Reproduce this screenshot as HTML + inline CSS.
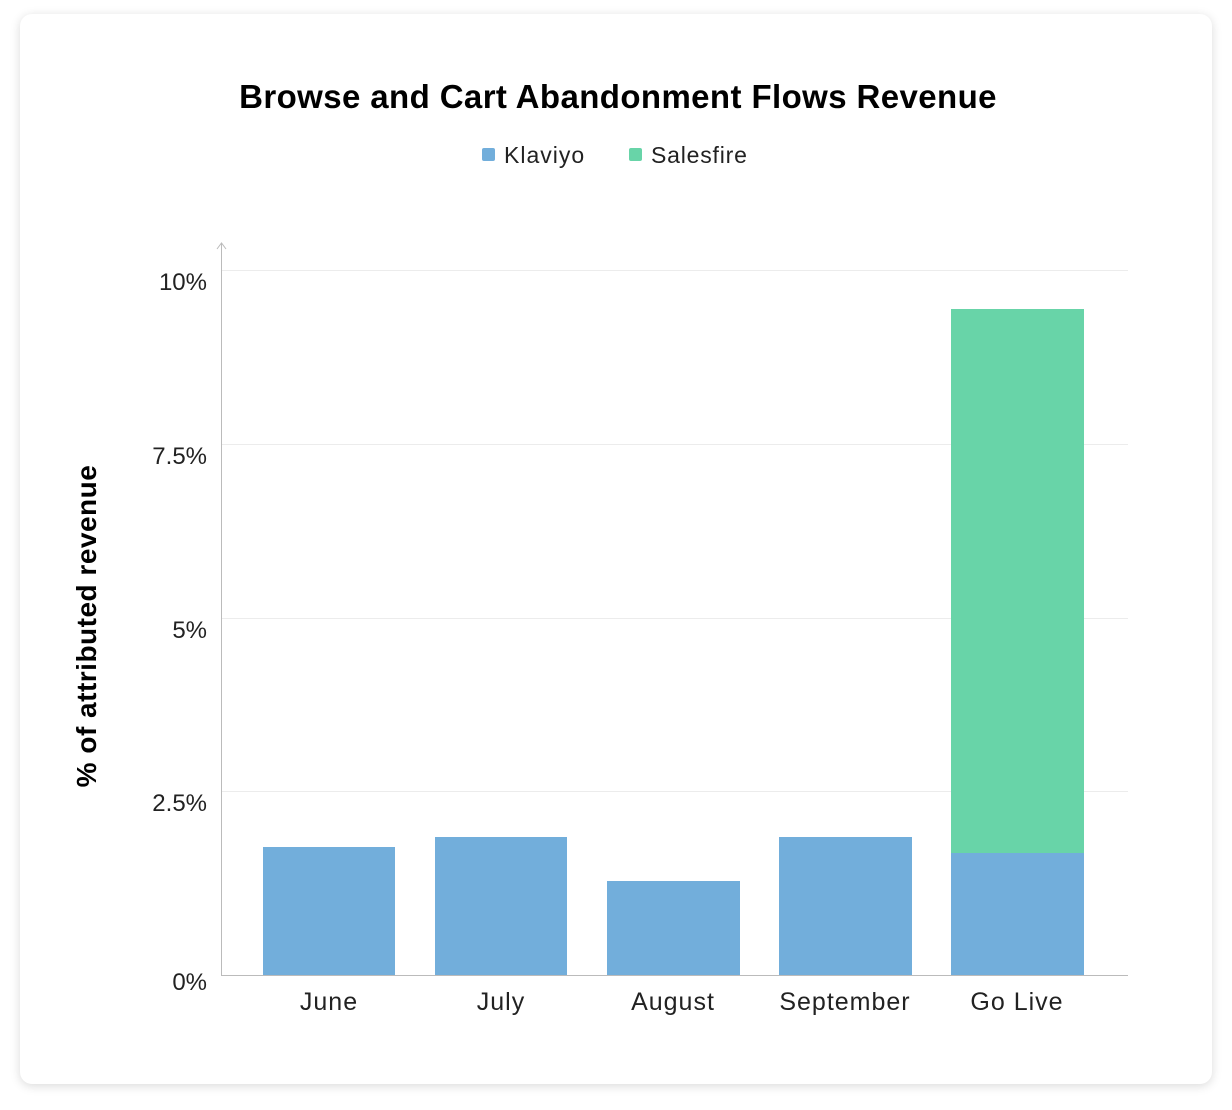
<!DOCTYPE html>
<html><head><meta charset="utf-8"><style>
html,body{margin:0;padding:0;background:#fff;}
body{width:1232px;height:1110px;position:relative;overflow:hidden;font-family:"Liberation Sans",sans-serif;}
.card{position:absolute;left:20px;top:14px;width:1192px;height:1070px;background:#fff;border-radius:12px;box-shadow:0 2px 10px rgba(0,0,0,0.15);}
</style></head><body>
<div class="card"></div>
<svg width="1232" height="1110" style="position:absolute;left:0;top:0" font-family="Liberation Sans, sans-serif">
<text x="618" y="108" text-anchor="middle" font-size="33" font-weight="bold" fill="#000" letter-spacing="0.4">Browse and Cart Abandonment Flows Revenue</text>
<rect x="482" y="148" width="13" height="13" rx="2" fill="#72aedb"/>
<text x="504" y="163" font-size="23" fill="#222" letter-spacing="1">Klaviyo</text>
<rect x="629" y="148" width="13" height="13" rx="2" fill="#68d4a8"/>
<text x="651" y="163" font-size="23" fill="#222" letter-spacing="0.8">Salesfire</text>
<g stroke="#ececec" stroke-width="1">
<line x1="221" y1="270.5" x2="1128" y2="270.5"/>
<line x1="221" y1="444.5" x2="1128" y2="444.5"/>
<line x1="221" y1="618.5" x2="1128" y2="618.5"/>
<line x1="221" y1="791.5" x2="1128" y2="791.5"/>
</g>
<line x1="221.5" y1="243" x2="221.5" y2="975" stroke="#bbb"/>
<polyline points="217,249 221.5,243 226,249" fill="none" stroke="#bbb"/>
<line x1="221" y1="975.5" x2="1128" y2="975.5" stroke="#bbb"/>
<g font-size="24" fill="#222" text-anchor="end">
<text x="207" y="290">10%</text>
<text x="207" y="464">7.5%</text>
<text x="207" y="638">5%</text>
<text x="207" y="811">2.5%</text>
<text x="207" y="990">0%</text>
</g>
<text transform="translate(96,626) rotate(-90)" text-anchor="middle" font-size="28" font-weight="bold" fill="#000" letter-spacing="0.5">% of attributed revenue</text>
<g fill="#72aedb">
<rect x="263" y="847" width="132" height="128"/>
<rect x="435" y="837" width="132" height="138"/>
<rect x="607" y="881" width="133" height="94"/>
<rect x="779" y="837" width="133" height="138"/>
<rect x="951" y="853" width="133" height="122"/>
</g>
<rect x="951" y="309" width="133" height="544" fill="#68d4a8"/>
<g font-size="25" fill="#222" text-anchor="middle" letter-spacing="1">
<text x="329" y="1010">June</text>
<text x="501" y="1010">July</text>
<text x="673" y="1010">August</text>
<text x="845" y="1010">September</text>
<text x="1017" y="1010">Go Live</text>
</g>
</svg>
</body></html>
